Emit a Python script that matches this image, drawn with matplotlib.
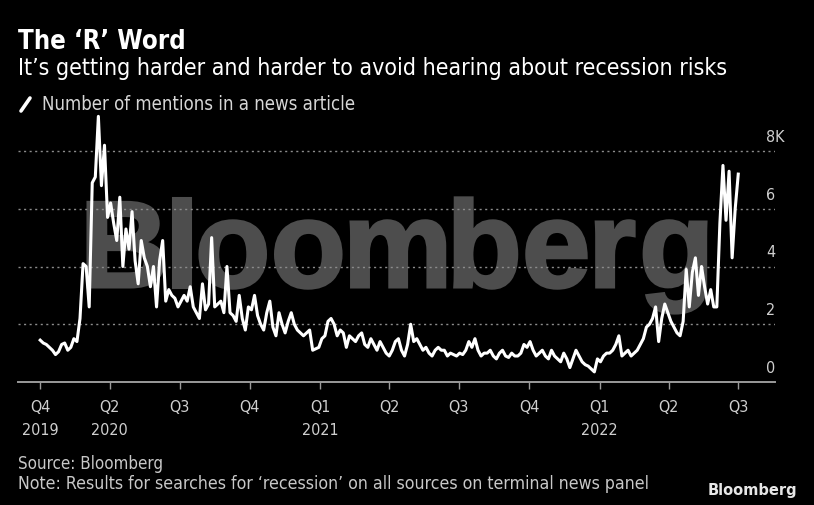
import matplotlib
matplotlib.use('Agg')
import numpy as np
import pandas as pd
import matplotlib.pyplot as plt
from matplotlib import font_manager as fm
from matplotlib.textpath import TextPath
from matplotlib.patches import PathPatch
from matplotlib.transforms import Affine2D
from matplotlib.lines import Line2D

# mentions of "recession" (thousands), one value every 4 days from 2020-01-01
mentions = [
    1.45, 1.35, 1.3, 1.2, 1.1, 0.95, 1.05, 1.3, 1.35, 1.1,
    1.2, 1.5, 1.4, 2.2, 4.1, 4.0, 2.6, 6.9, 7.1, 9.2,
    6.8, 8.2, 5.7, 6.2, 5.5, 4.9, 6.4, 4.0, 5.3, 4.6,
    5.9, 4.2, 3.4, 4.9, 4.3, 4.0, 3.3, 4.0, 2.6, 4.2,
    4.9, 2.8, 3.2, 3.0, 2.9, 2.6, 2.8, 3.0, 2.8, 3.3,
    2.6, 2.4, 2.2, 3.4, 2.5, 2.7, 5.0, 2.6, 2.7, 2.8,
    2.4, 4.0, 2.4, 2.3, 2.1, 3.0, 2.2, 1.8, 2.6, 2.5,
    3.0, 2.3, 2.0, 1.8, 2.4, 2.8, 1.9, 1.6, 2.4, 2.0,
    1.7, 2.1, 2.4, 2.0, 1.8, 1.7, 1.6, 1.7, 1.8, 1.1,
    1.15, 1.2, 1.5, 1.6, 2.1, 2.2, 2.0, 1.6, 1.8, 1.7,
    1.2, 1.6, 1.5, 1.4, 1.6, 1.7, 1.3, 1.2, 1.5, 1.3,
    1.1, 1.4, 1.2, 1.0, 0.9, 1.1, 1.4, 1.5, 1.1, 0.9,
    1.3, 2.0, 1.4, 1.5, 1.3, 1.1, 1.2, 1.0, 0.9, 1.1,
    1.2, 1.1, 1.1, 0.9, 1.0, 0.95, 0.9, 1.0, 0.95, 1.1,
    1.4, 1.2, 1.5, 1.1, 0.9, 1.0, 1.0, 1.1, 0.9, 0.8,
    1.0, 1.1, 0.9, 0.85, 1.0, 0.9, 0.9, 1.0, 1.3, 1.2,
    1.4, 1.1, 0.9, 1.0, 1.1, 0.9, 0.8, 1.1, 0.9, 0.8,
    0.7, 1.0, 0.8, 0.5, 0.8, 1.1, 0.9, 0.7, 0.6, 0.55,
    0.45, 0.35, 0.8, 0.7, 0.9, 1.0, 1.0, 1.1, 1.3, 1.6,
    0.9, 1.0, 1.1, 0.9, 1.0, 1.1, 1.3, 1.5, 1.9, 2.0,
    2.2, 2.6, 1.4, 2.2, 2.7, 2.4, 2.1, 1.9, 1.7, 1.6,
    2.1, 3.9, 2.6, 3.8, 4.3, 3.0, 4.0, 3.3, 2.7, 3.2,
    2.6, 2.6, 5.5, 7.5, 5.6, 7.3, 4.3, 6.0, 7.2,
]
start = '2020-01-01'

tick_dates = ['2020-01-01', '2020-04-01', '2020-07-01', '2020-10-01',
              '2021-01-01', '2021-04-01', '2021-07-01', '2021-10-01',
              '2022-01-01', '2022-04-01', '2022-07-01']
tick_labels = ['Q4\n2019', 'Q2\n2020', 'Q3', 'Q4', 'Q1\n2021', 'Q2', 'Q3',
               'Q4', 'Q1\n2022', 'Q2', 'Q3']
y_ticks = [0, 2, 4, 6, 8]
y_labels = ['0', '2', '4', '6', '8K']

# pick a narrow font if there is one
ents = fm.fontManager.ttflist
if any(f.name == 'DejaVu Sans' and f.stretch == 'condensed' for f in ents):
    fam, stretch = 'DejaVu Sans', 'condensed'
elif any(f.name == 'Liberation Sans Narrow' for f in ents):
    fam, stretch = 'Liberation Sans Narrow', 'normal'
else:
    fam, stretch = 'DejaVu Sans', 'normal'
plt.rcParams['font.family'] = [fam, 'DejaVu Sans']
plt.rcParams['font.stretch'] = stretch

W, H = 814, 506
fig = plt.figure(figsize=(W / 100, H / 100), dpi=100, facecolor='black')
ax = fig.add_axes([18 / W, (H - 383) / H, 757 / W, 9.5 * 28.875 / H])
ax.set_facecolor('black')

dates = pd.date_range(start, periods=len(mentions), freq='4D')
ax.plot(dates, mentions, color='white', lw=2.2, zorder=3)

ax.set_xlim(pd.Timestamp(tick_dates[0]) - pd.Timedelta(days=29),
            pd.Timestamp(tick_dates[-1]) + pd.Timedelta(days=48))
ax.set_ylim(0, 9.5)

for v in y_ticks[1:]:
    ax.axhline(v, color='#8c8c8c', lw=1, ls=(0, (1.5, 2.5)), zorder=2)
for v, lab in zip(y_ticks, y_labels):
    ax.annotate(lab, xy=(0.988, v), xycoords=ax.get_yaxis_transform(),
                xytext=(0, 10), textcoords='offset pixels', ha='left',
                va='baseline', color='#cfcfcf', fontsize=11.5)

for s in ['top', 'left', 'right']:
    ax.spines[s].set_visible(False)
ax.spines['bottom'].set_color('#9a9a9a')
ax.spines['bottom'].set_linewidth(1.4)
ax.set_yticks([])
ax.set_xticks(pd.to_datetime(tick_dates))
ax.set_xticklabels(tick_labels, linespacing=1.7)
ax.tick_params(axis='x', colors='#9a9a9a', labelcolor='#cfcfcf',
               length=5, width=1, pad=7, labelsize=11.5)

# grey watermark behind the line, letters set close together
wprop = fm.FontProperties(family='Liberation Sans', weight='bold')
glyphs = [TextPath((0, 0), c, size=123, prop=wprop) for c in 'Bloomberg']
exts = [g.get_extents() for g in glyphs]
gap = (618 - sum(e.width for e in exts)) / (len(glyphs) - 1)
x0 = 88
for g, e in zip(glyphs, exts):
    tr = Affine2D().translate(x0 - e.x0, H - 288)
    ax.add_patch(PathPatch(g, transform=tr, facecolor='#4d4d4d', edgecolor='#4d4d4d',
                           lw=2.2, zorder=1, clip_on=False))
    x0 += e.width + gap

# legend mark
fig.add_artist(Line2D([21 / W, 30 / W], [(H - 112) / H, (H - 99) / H],
                      color='white', lw=2.6, solid_capstyle='round'))

title = fig.text(18 / W, (H - 49) / H, 'The ‘R’ Word', fontsize=17,
                 weight='bold', color='white', va='baseline')
sub = fig.text(18 / W, (H - 75) / H,
               'It’s getting harder and harder to avoid hearing about recession risks',
               fontsize=14, color='white', va='baseline')
leg = fig.text(42 / W, (H - 110) / H, 'Number of mentions in a news article',
               fontsize=12, color='#d6d6d6', va='baseline')
src = fig.text(18 / W, (H - 469) / H, 'Source: Bloomberg', fontsize=11,
               color='#c8c8c8', va='baseline')
note = fig.text(18 / W, (H - 489) / H,
                'Note: Results for searches for ‘recession’ on all sources on terminal news panel',
                fontsize=11, color='#c8c8c8', va='baseline')
logo = fig.text(797 / W, (H - 495) / H, 'Bloomberg', fontsize=12, weight='bold',
                color='#e6e6e6', ha='right', va='baseline')

r = fig.canvas.get_renderer()
for t, w in [(title, 167), (sub, 715), (leg, 313), (src, 145), (note, 632), (logo, 89)]:
    t.set_fontsize(t.get_fontsize() * w / t.get_window_extent(r).width)

fig.savefig('out.png', dpi=100, facecolor='black')
